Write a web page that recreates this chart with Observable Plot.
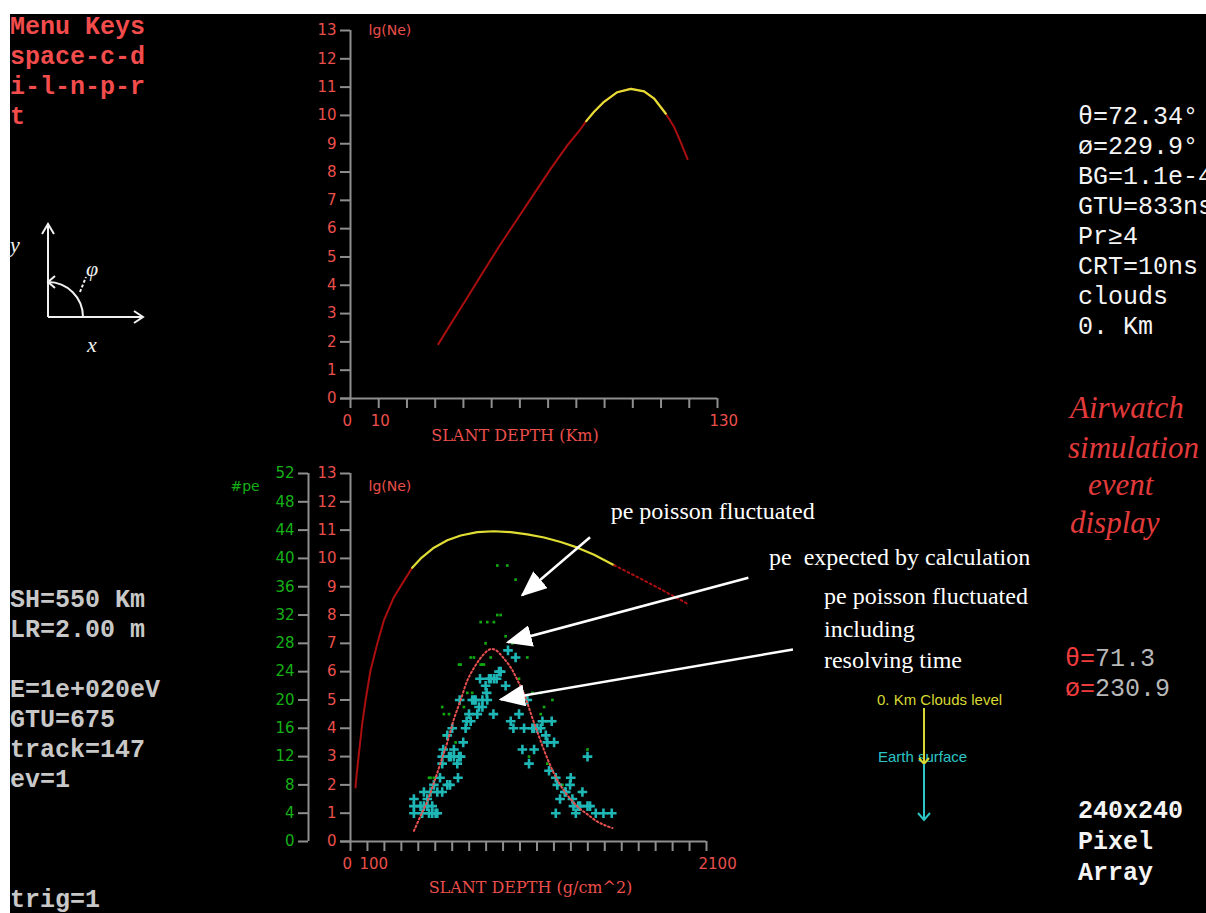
<!DOCTYPE html>
<html>
<head>
<meta charset="utf-8">
<script src="https://cdn.jsdelivr.net/npm/d3@7"></script>
<script src="https://cdn.jsdelivr.net/npm/@observablehq/plot@0.6"></script>
<style>
  html, body { margin: 0; padding: 0; width: 1206px; height: 913px; overflow: hidden; background: #fff; }
  #screen { position: absolute; left: 10px; top: 14px; width: 1196px; height: 899px; background: #000; }
  .layer { position: absolute; left: 0; top: 0; }
  .mono { position: absolute; font-family: "Liberation Mono", "DejaVu Sans Mono", monospace; font-size: 25px; line-height: 30px; white-space: pre; }
  .bold { font-weight: bold; }
  .script { position: absolute; font-family: "Liberation Serif", serif; font-style: italic; font-size: 31px; line-height: 38px; color: #e23a3a; white-space: pre; }
  .small { position: absolute; font-family: "Liberation Sans", sans-serif; font-size: 15px; line-height: 18px; white-space: pre; }
</style>
</head>
<body>
<div id="screen"></div>

<!-- status panels of the event display -->
<div class="mono bold" style="left:10px; top:13px; color:#f24c4c;">Menu Keys
space-c-d
i-l-n-p-r
t</div>

<div class="mono" style="left:1078px; top:103px; color:#f4f4f4;">θ=72.34°
ø=229.9°
BG=1.1e-4
GTU=833ns
Pr≥4
CRT=10ns
clouds
0. Km</div>

<div class="mono" style="left:10px; top:586px; color:#c8c8c8; font-weight:600;">SH=550 Km
LR=2.00 m

E=1e+020eV
GTU=675
track=147
ev=1</div>
<div class="mono" style="left:10px; top:886px; color:#c8c8c8; font-weight:600;">trig=1</div>

<div class="mono" style="left:1065px; top:645px; color:#b8b8b8;"><span style="color:#f03c3c">θ=</span>71.3
<span style="color:#f03c3c">ø=</span>230.9</div>

<div class="mono bold" style="left:1078px; top:796px; color:#f4f4f4; line-height:31px;">240x240
Pixel
Array</div>

<div class="script" style="left:1070px; top:389px;">Airwatch</div>
<div class="script" style="left:1068px; top:429px;">simulation</div>
<div class="script" style="left:1088px; top:466px;">event</div>
<div class="script" style="left:1070px; top:504px;">display</div>

<div class="small" style="left:877px; top:691px; color:#d8d832;">0. Km Clouds level</div>
<div class="small" style="left:878px; top:748px; color:#2cc4c4;">Earth surface</div>

<!-- angle sketch and cloud level indicator -->
<svg class="layer" width="1206" height="913" style="pointer-events:none">
  <g stroke="#f0f0f0" stroke-width="2" fill="none">
    <line x1="48" y1="317" x2="48" y2="224"/>
    <polyline points="42,234 48,224 54,234"/>
    <line x1="48" y1="317" x2="143" y2="317"/>
    <polyline points="134,311 143,317 134,323"/>
    <path d="M83,317 A35,35 0 0 0 48,282"/>
    <polyline points="55,276 48,282 55,288"/>
    <line x1="80" y1="292" x2="86" y2="277" stroke-dasharray="3,2"/>
  </g>
  <g fill="#f0f0f0" font-family="Liberation Serif, serif" font-style="italic" font-size="22">
    <text x="10" y="252">y</text>
    <text x="86" y="276">φ</text>
    <text x="87" y="352">x</text>
  </g>
  <g fill="none" stroke-width="2">
    <line x1="924" y1="708" x2="924" y2="764" stroke="#d8d832"/>
    <polyline points="919,758 924,764 929,758" stroke="#d8d832"/>
    <line x1="924" y1="764" x2="924" y2="820" stroke="#2cc4c4"/>
    <polyline points="918,813 924,820 930,813" stroke="#2cc4c4"/>
  </g>
</svg>

<div id="upper" class="layer"></div>
<div id="lower" class="layer"></div>

<script>
const W = 1206, H = 913;

// ---------- upper panel: shower size against slant depth (km) ----------
const topDepthKm = [31.1, 35.5, 41.4, 47.3, 53.2, 59.1, 65.0, 70.9, 76.8, 81.5, 83.5, 86.2, 89.8, 94.5, 99.3, 104.0, 107.6, 111.7, 114.7, 117.0, 119.4];
const topLgNe    = [1.92, 2.63, 3.57, 4.52, 5.46, 6.34, 7.23, 8.11, 8.94, 9.52, 9.80, 10.12, 10.48, 10.82, 10.94, 10.85, 10.59, 10.06, 9.58, 9.05, 8.46];
const topSeenFromKm = 83.5, topSeenToKm = 111.7;   // part of the track seen by the detector
const topXTicks = d3.range(0, 131, 10);
const topXLabels = [0, 10, 130];
const lgTicks = d3.range(0, 14);

// ---------- lower panel: shower size and photoelectrons against slant depth (g/cm^2) ----------
const lowDepth = [29.5, 35.4, 49.2, 68.9, 88.6, 118, 157.5, 196.9, 255.9, 305, 364, 413, 492, 571, 650, 748, 846, 945, 1043, 1142, 1240, 1339, 1437, 1555, 1654, 1713, 1831, 1984];
const lowLgNe  = [1.91, 2.32, 3.09, 4.15, 4.98, 6.04, 6.98, 7.81, 8.63, 9.11, 9.67, 9.99, 10.38, 10.64, 10.81, 10.93, 10.96, 10.93, 10.85, 10.74, 10.58, 10.38, 10.13, 9.76, 9.46, 9.28, 8.91, 8.41];
const lowSeenFrom = 364, lowSeenTo = 1555;
const lowXTicks = d3.range(0, 2101, 100);
const lowXLabels = [0, 100, 2100];
const PE_PER_LG = 4;   // the #pe axis runs 0..52 against lg(Ne) 0..13

// expected photoelectrons
const expDepth = [374, 413, 455, 492, 530, 571, 610, 650, 690, 730, 770, 810, 831, 860, 900, 945, 985, 1025, 1065, 1105, 1145, 1185, 1225, 1265, 1305, 1350, 1400, 1450, 1500, 1545];
const expPe    = [1.5, 3.6, 5.8, 8.3, 11.0, 14.0, 17.3, 20.0, 22.8, 24.6, 26.0, 27.0, 27.2, 27.0, 26.0, 24.6, 22.8, 20.8, 18.0, 15.3, 12.7, 10.4, 8.5, 7.0, 5.8, 4.7, 3.8, 2.9, 2.3, 1.9];

// poisson fluctuated photoelectrons
const fluctDepth = [453, 463, 472, 492, 541, 541, 551, 551, 581, 620, 640, 650, 669, 689, 709, 718, 728, 768, 768, 778, 787, 797, 807, 827, 846, 866, 886, 866, 925, 974, 915, 955, 994, 1004, 1043, 1053, 1073, 1122, 1122, 1142, 1152, 1161, 1191, 1201, 1220, 1250, 1264, 1295, 1299, 1358, 1398];
const fluctPe    = [6, 9, 9, 9, 11, 19, 15, 18, 18, 14, 25, 25, 19, 21, 26, 21, 26, 31, 25, 25, 25, 28, 31, 26, 31, 32, 32, 39, 39, 37, 29, 28, 23, 20, 26, 12, 21, 21, 18, 19, 17, 11, 20, 17, 9, 8, 7, 9, 9, 7, 13];

// poisson fluctuated photoelectrons including resolving time
const resDepth = [374, 374, 374, 413, 423, 433, 433, 453, 453, 463, 472, 482, 482, 492, 502, 512, 512, 528, 541, 547, 541, 541, 571, 571, 581, 587, 591, 600, 610, 610, 630, 634, 640, 644, 650, 665, 679, 685, 699, 709, 718, 728, 738, 748, 758, 764, 778, 778, 797, 803, 807, 817, 827, 843, 846, 862, 876, 886,
                  915, 929, 945, 961, 974, 994, 1014, 1024, 1043, 1053, 1073, 1083, 1083, 1102, 1122, 1132, 1152, 1161, 1171, 1187, 1201, 1211, 1211, 1220, 1236, 1264, 1270, 1295, 1299, 1309, 1315, 1329, 1343, 1354, 1368, 1398, 1398, 1413, 1447, 1492, 1541];
const resPe    = [4, 5, 6, 5, 4, 5, 7, 5, 6, 4, 7, 4, 5, 8, 4, 4, 7, 9, 7, 13, 11, 12, 15, 8, 12, 8, 12, 16, 13, 12, 11, 9, 12, 20, 12, 14, 16, 17, 18, 17, 20, 20, 20, 18, 19, 23, 19, 20, 22, 21, 20, 23, 23, 18, 23, 23, 24, 24,
                  22, 27, 17, 16, 26, 18, 13, 16, 20, 11, 16, 16, 13, 16, 16, 17, 15, 14, 10, 17, 14, 4, 9, 8, 6, 7, 7, 8, 9, 6, 5, 4, 5, 5, 7, 12, 5, 5, 4, 4, 4];

// explanatory notes and their arrows, placed in lower-panel units
const noteText  = ["pe poisson fluctuated", "pe  expected by calculation", "pe poisson fluctuated", "including", "resolving time"];
const noteDepth = [1535, 2469, 2793, 2793, 2793];
const noteLg    = [11.67, 10.04, 8.66, 7.49, 6.39];
const arrowFromDepth = [1413, 2347, 2610];
const arrowFromLg    = [10.75, 9.32, 6.78];
const arrowToDepth   = [1013, 928, 886];
const arrowToLg      = [8.70, 7.04, 5.02];

// ---------- styling ----------
const AXIS = "#8e8e8e", LABEL = "#ea4f4b", GREEN = "#16b016";
const SHOWER = "#aa0e0e", SEEN = "#e0de34", EXPECT = "#e85050", CROSS = "#1fb6b6", FLUCT = "#12a812";
const baseStyle = {background: "transparent", overflow: "visible", fontFamily: "DejaVu Sans, sans-serif", fontSize: "15px", color: LABEL};
const TITLE_FONT = {fill: LABEL, fontFamily: "DejaVu Serif, serif", fontSize: 16};

const topRows = topDepthKm.map((d, i) => ({depth: d, lg: topLgNe[i]}));
const lowRows = lowDepth.map((d, i) => ({depth: d, lg: lowLgNe[i]}));
const expRows = expDepth.map((d, i) => ({depth: d, pe: expPe[i]}));
const fluctRows = fluctDepth.map((d, i) => ({depth: d, pe: fluctPe[i]}));
const resRows = resDepth.map((d, i) => ({depth: d, pe: resPe[i]}));
const notes = noteText.map((t, i) => ({text: t, depth: noteDepth[i], lg: noteLg[i]}));
const arrows = arrowFromDepth.map((d, i) => ({x1: d, y1: arrowFromLg[i], x2: arrowToDepth[i], y2: arrowToLg[i]}));

const upper = Plot.plot({
  width: W, height: H,
  marginLeft: 350, marginRight: 489, marginTop: 30, marginBottom: 515,
  style: baseStyle,
  x: {domain: [0, 130]},
  y: {domain: [0, 13]},
  marks: [
    Plot.ruleY([0], {stroke: AXIS, strokeWidth: 2, insetLeft: -10}),
    Plot.ruleX([0], {stroke: AXIS, strokeWidth: 2}),
    Plot.axisY(lgTicks, {tickSize: 10, tickPadding: 4, stroke: AXIS, strokeWidth: 2, fill: LABEL, label: null, tickFormat: d => String(d)}),
    Plot.axisX(topXTicks, {tickSize: 10, stroke: AXIS, strokeWidth: 2, tickFormat: () => "", label: null}),
    Plot.axisX(topXLabels, {tickSize: 0, tickPadding: 17, fill: LABEL, textAnchor: "start", dx: -8, label: null, tickFormat: d => String(d)}),
    Plot.line(topRows, {x: "depth", y: "lg", stroke: SHOWER, strokeWidth: 2}),
    Plot.line(topRows.filter(d => d.depth >= topSeenFromKm && d.depth <= topSeenToKm), {x: "depth", y: "lg", stroke: SEEN, strokeWidth: 2.2}),
    Plot.text(["lg(Ne)"], {frameAnchor: "top-left", dx: 18, dy: -5, textAnchor: "start", fill: LABEL, fontSize: 14}),
    Plot.text(["SLANT DEPTH (Km)"], {frameAnchor: "bottom", dx: -19, dy: 42, ...TITLE_FONT})
  ]
});
document.getElementById("upper").append(upper);

const lower = Plot.plot({
  width: W, height: H,
  marginLeft: 350, marginRight: 500, marginTop: 473, marginBottom: 72,
  style: baseStyle,
  x: {domain: [0, 2100]},
  y: {domain: [0, 13]},
  marks: [
    Plot.ruleY([0], {stroke: AXIS, strokeWidth: 2, insetLeft: -10}),
    Plot.ruleX([0], {stroke: AXIS, strokeWidth: 2}),
    Plot.ruleX([0], {stroke: AXIS, strokeWidth: 2, dx: -42}),
    Plot.axisY(lgTicks, {tickSize: 10, tickPadding: 4, stroke: AXIS, strokeWidth: 2, fill: LABEL, label: null, tickFormat: d => String(d)}),
    Plot.axisY(lgTicks, {tickSize: 10, tickPadding: 4, stroke: AXIS, strokeWidth: 2, fill: GREEN, label: null, dx: -42, tickFormat: d => String(d * PE_PER_LG)}),
    Plot.axisX(lowXTicks, {tickSize: 10, stroke: AXIS, strokeWidth: 2, tickFormat: () => "", label: null}),
    Plot.axisX(lowXLabels, {tickSize: 0, tickPadding: 17, fill: LABEL, textAnchor: "start", dx: -8, label: null, tickFormat: d => String(d)}),
    // shower size: before, inside and after the observed part
    Plot.line(lowRows.filter(d => d.depth <= lowSeenFrom), {x: "depth", y: "lg", stroke: SHOWER, strokeWidth: 2}),
    Plot.line(lowRows.filter(d => d.depth >= lowSeenFrom && d.depth <= lowSeenTo), {x: "depth", y: "lg", stroke: SEEN, strokeWidth: 2.2}),
    Plot.line(lowRows.filter(d => d.depth >= lowSeenTo), {x: "depth", y: "lg", stroke: SHOWER, strokeWidth: 2, strokeDasharray: "2,3"}),
    // photoelectrons
    Plot.dot(fluctRows, {x: "depth", y: d => d.pe / PE_PER_LG, r: 1.5, fill: FLUCT, symbol: "square"}),
    Plot.dot(resRows, {x: "depth", y: d => d.pe / PE_PER_LG, r: 3.2, symbol: "plus", stroke: CROSS, strokeWidth: 2.6}),
    Plot.line(expRows, {x: "depth", y: d => d.pe / PE_PER_LG, stroke: EXPECT, strokeWidth: 2, strokeDasharray: "1.6,2.6", curve: "catmull-rom"}),
    // notes
    Plot.link(arrows, {x1: "x1", y1: "y1", x2: "x2", y2: "y2", stroke: "#ffffff", strokeWidth: 2.5}),
    Plot.text(notes, {x: "depth", y: "lg", text: "text", textAnchor: "start", fill: "#ffffff", fontFamily: "Liberation Serif, serif", fontSize: 24}),
    Plot.text(["lg(Ne)"], {frameAnchor: "top-left", dx: 18, dy: 8, textAnchor: "start", fill: LABEL, fontSize: 14}),
    Plot.text(["#pe"], {frameAnchor: "top-left", dx: -120, dy: 8, textAnchor: "start", fill: GREEN, fontSize: 14}),
    Plot.text(["SLANT DEPTH (g/cm^2)"], {frameAnchor: "bottom", dx: 2, dy: 51, ...TITLE_FONT})
  ],
  clip: false
});

// solid triangular heads on the note arrows
const NS = "http://www.w3.org/2000/svg";
const defs = document.createElementNS(NS, "defs");
const marker = document.createElementNS(NS, "marker");
marker.setAttribute("id", "note-head");
marker.setAttribute("viewBox", "0 0 26 22");
marker.setAttribute("refX", "24");
marker.setAttribute("refY", "11");
marker.setAttribute("markerWidth", "26");
marker.setAttribute("markerHeight", "22");
marker.setAttribute("markerUnits", "userSpaceOnUse");
marker.setAttribute("orient", "auto");
const tri = document.createElementNS(NS, "path");
tri.setAttribute("d", "M0,0 L26,11 L0,22 Z");
tri.setAttribute("fill", "#ffffff");
marker.append(tri);
defs.append(marker);
lower.prepend(defs);
lower.querySelectorAll('g[aria-label="link"] path').forEach(p => p.setAttribute("marker-end", "url(#note-head)"));

document.getElementById("lower").append(lower);
</script>
</body>
</html>
